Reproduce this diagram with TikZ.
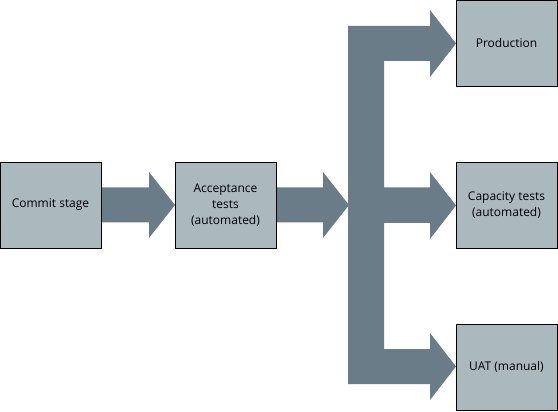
\documentclass[tikz,border=0pt]{standalone}
\usepackage{fontspec}
\setmainfont{Open Sans}
\definecolor{arrowgray}{RGB}{106,124,135}
\definecolor{boxgray}{RGB}{171,185,191}
\begin{document}
\begin{tikzpicture}[x=1pt,y=-1pt,
  stage/.style={draw=black,fill=boxgray,line width=0.8pt,minimum width=101pt,minimum height=86pt,
    inner sep=2pt,align=center,font=\fontsize{12}{16}\selectfont},
  blockarrow/.style={fill=arrowgray,draw=none}]
   \useasboundingbox (0,0) rectangle (558,412);
   % arrows
   \fill[blockarrow] (101,187.5) -- (149,187.5) -- (149,172) -- (175,205) -- (149,238) -- (149,222.5) -- (101,222.5) -- cycle;
   \fill[blockarrow] (276,187.5) -- (323,187.5) -- (323,172) -- (349,205) -- (323,238) -- (323,222.5) -- (276,222.5) -- cycle;
   \fill[blockarrow] (348,26) -- (430,26) -- (430,10) -- (456,43.5) -- (430,77) -- (430,61) -- (384,61)
      -- (384,187.5) -- (430,187.5) -- (430,172) -- (456,205.5) -- (430,239) -- (430,223) -- (384,223)
      -- (384,349) -- (430,349) -- (430,333) -- (456,366.5) -- (430,400) -- (430,384) -- (348,384) -- cycle;
   % stages
   \node[stage] (commit) at (50.5,205) {Commit stage};
   \node[stage] (accept) at (225.5,205) {Acceptance\\tests\\(automated)};
   \node[stage] (prod) at (506.5,43.5) {Production};
   \node[stage] (capacity) at (506.5,205.5) {Capacity tests\\(automated)};
   \node[stage] (uat) at (506.5,367) {UAT (manual)};
\end{tikzpicture}
\end{document}
